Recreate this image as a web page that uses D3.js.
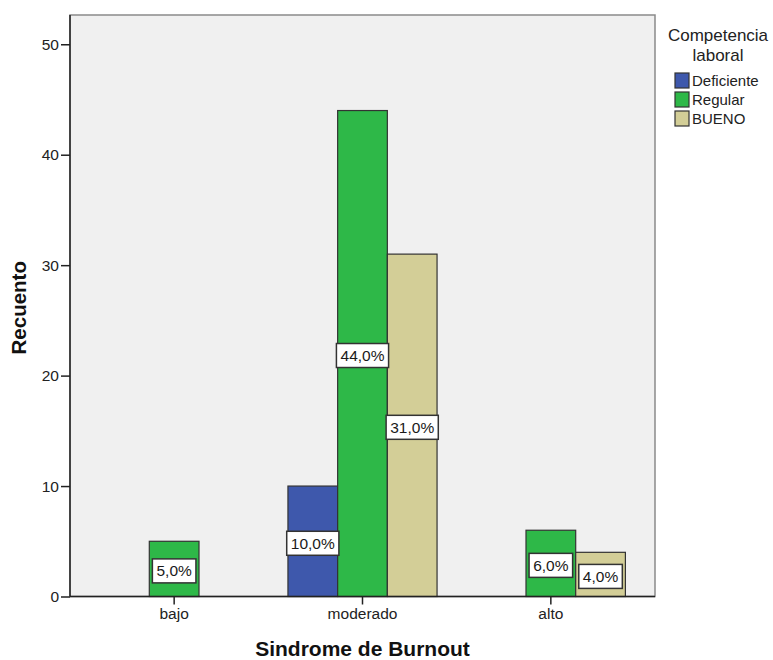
<!DOCTYPE html>
<html>
<head>
<meta charset="utf-8">
<script src="https://cdn.jsdelivr.net/npm/d3@7"></script>
<style>
  html, body { margin: 0; padding: 0; background: #ffffff; }
  svg { display: block; font-family: "Liberation Sans", Arial, sans-serif; }
</style>
</head>
<body>
<svg id="chart" width="773" height="660"></svg>
<script>
// Burnout level categories and the work-competence groups within each
const categories = ["bajo", "moderado", "alto"];
const groups = ["Deficiente", "Regular", "BUENO"];

// Counts per category (null = no bar)
const deficiente = [null, 10, null];
const regular = [5, 44, 6];
const bueno = [null, 31, 4];

const yTicks = [0, 10, 20, 30, 40, 50];
const groupColors = ["#3e58ac", "#2eb848", "#d3ce97"];

const seriesByGroup = [deficiente, regular, bueno];
const total = d3.sum(seriesByGroup.flat().filter(v => v != null));

// Flatten into bar records
const bars = [];
categories.forEach((cat, ci) => {
  groups.forEach((g, gi) => {
    const v = seriesByGroup[gi][ci];
    if (v != null) bars.push({ cat, group: g, gi, value: v });
  });
});

const svg = d3.select("#chart");
const plot = { left: 70, right: 655, top: 15, bottom: 596.5 };

const x0 = d3.scaleBand()
  .domain(categories)
  .range([plot.left, plot.right])
  .paddingInner(0)
  .paddingOuter(0.053);

const bw = x0.bandwidth();
const slot = 49.7;
const x1 = d3.scaleBand()
  .domain(groups)
  .range([bw / 2 - slot * 1.5, bw / 2 + slot * 1.5]);

const y = d3.scaleLinear()
  .domain([0, 52.65])
  .range([plot.bottom, plot.top]);

// Plot background and frame
svg.append("rect")
  .attr("x", plot.left)
  .attr("y", plot.top)
  .attr("width", plot.right - plot.left)
  .attr("height", plot.bottom - plot.top)
  .attr("fill", "#f0f0f0")
  .attr("stroke", "#8a8a8a")
  .attr("stroke-width", 1.5);

// Bars
svg.append("g").selectAll("rect")
  .data(bars)
  .join("rect")
  .attr("x", d => x0(d.cat) + x1(d.group))
  .attr("y", d => y(d.value))
  .attr("width", x1.bandwidth())
  .attr("height", d => y(0) - y(d.value))
  .attr("fill", d => groupColors[d.gi])
  .attr("stroke", "#333333")
  .attr("stroke-width", 1.2);

// Percentage labels in boxes at bar mid-height
const fmtPct = v => d3.format(".1f")(v).replace(".", ",") + "%";
const labelG = svg.append("g");
bars.forEach(d => {
  const cx = x0(d.cat) + x1(d.group) + x1.bandwidth() / 2;
  const cy = (y(d.value) + y(0)) / 2 + 2;
  const g = labelG.append("g");
  const box = g.append("rect");
  const t = g.append("text")
    .attr("x", cx)
    .attr("y", cy)
    .attr("text-anchor", "middle")
    .attr("dy", "0.36em")
    .attr("font-size", 15.5)
    .attr("fill", "#1a1a1a")
    .text(fmtPct(d.value / total * 100));
  const bb = t.node().getBBox();
  box.attr("x", cx - bb.width / 2 - 4)
    .attr("y", cy - 12)
    .attr("width", bb.width + 8)
    .attr("height", 24)
    .attr("fill", "#ffffff")
    .attr("stroke", "#333333")
    .attr("stroke-width", 1.5);
});

// Y axis
const yAxis = d3.axisLeft(y).tickValues(yTicks).tickSize(9).tickPadding(2).tickFormat(d3.format("d"));
const yG = svg.append("g")
  .attr("transform", `translate(${plot.left},0)`)
  .call(yAxis);
yG.select(".domain").remove();
yG.selectAll(".tick line").attr("stroke", "#222").attr("stroke-width", 1.5);
yG.selectAll(".tick text").attr("font-size", 15.5).attr("fill", "#222")
  .attr("font-family", "Liberation Sans, Arial, sans-serif");
svg.append("line")
  .attr("x1", plot.left).attr("x2", plot.left)
  .attr("y1", plot.top).attr("y2", plot.bottom)
  .attr("stroke", "#222").attr("stroke-width", 1.5);

// X axis
const xAxis = d3.axisBottom(x0).tickSize(8).tickPadding(3);
const xG = svg.append("g")
  .attr("transform", `translate(0,${plot.bottom})`)
  .call(xAxis);
xG.select(".domain").remove();
xG.selectAll(".tick line").attr("stroke", "#222").attr("stroke-width", 1.5);
xG.selectAll(".tick text").attr("font-size", 15.5).attr("fill", "#222")
  .attr("font-family", "Liberation Sans, Arial, sans-serif");
svg.append("line")
  .attr("x1", plot.left).attr("x2", plot.right)
  .attr("y1", plot.bottom).attr("y2", plot.bottom)
  .attr("stroke", "#222").attr("stroke-width", 1.5);

// Axis titles
svg.append("text")
  .attr("x", (plot.left + plot.right) / 2)
  .attr("y", 656)
  .attr("text-anchor", "middle")
  .attr("font-size", 21)
  .attr("font-weight", "bold")
  .attr("fill", "#111")
  .text("Sindrome de Burnout");

svg.append("text")
  .attr("transform", `translate(26,${(plot.top + plot.bottom) / 2 + 2}) rotate(-90)`)
  .attr("text-anchor", "middle")
  .attr("font-size", 20.5)
  .attr("font-weight", "bold")
  .attr("fill", "#111")
  .text("Recuento");

// Legend
const legend = svg.append("g");
legend.append("text")
  .attr("x", 718).attr("y", 41)
  .attr("text-anchor", "middle")
  .attr("font-size", 17)
  .attr("fill", "#222")
  .text("Competencia");
legend.append("text")
  .attr("x", 718).attr("y", 61)
  .attr("text-anchor", "middle")
  .attr("font-size", 17)
  .attr("fill", "#222")
  .text("laboral");

const item = legend.selectAll("g.item")
  .data(groups)
  .join("g")
  .attr("class", "item")
  .attr("transform", (d, i) => `translate(675,${73 + i * 19})`);
item.append("rect")
  .attr("width", 14).attr("height", 15)
  .attr("fill", (d, i) => groupColors[i])
  .attr("stroke", "#333").attr("stroke-width", 1.2);
item.append("text")
  .attr("x", 17).attr("y", 7.5)
  .attr("dy", "0.36em")
  .attr("font-size", 15)
  .attr("fill", "#222")
  .text(d => d);
</script>
</body>
</html>
